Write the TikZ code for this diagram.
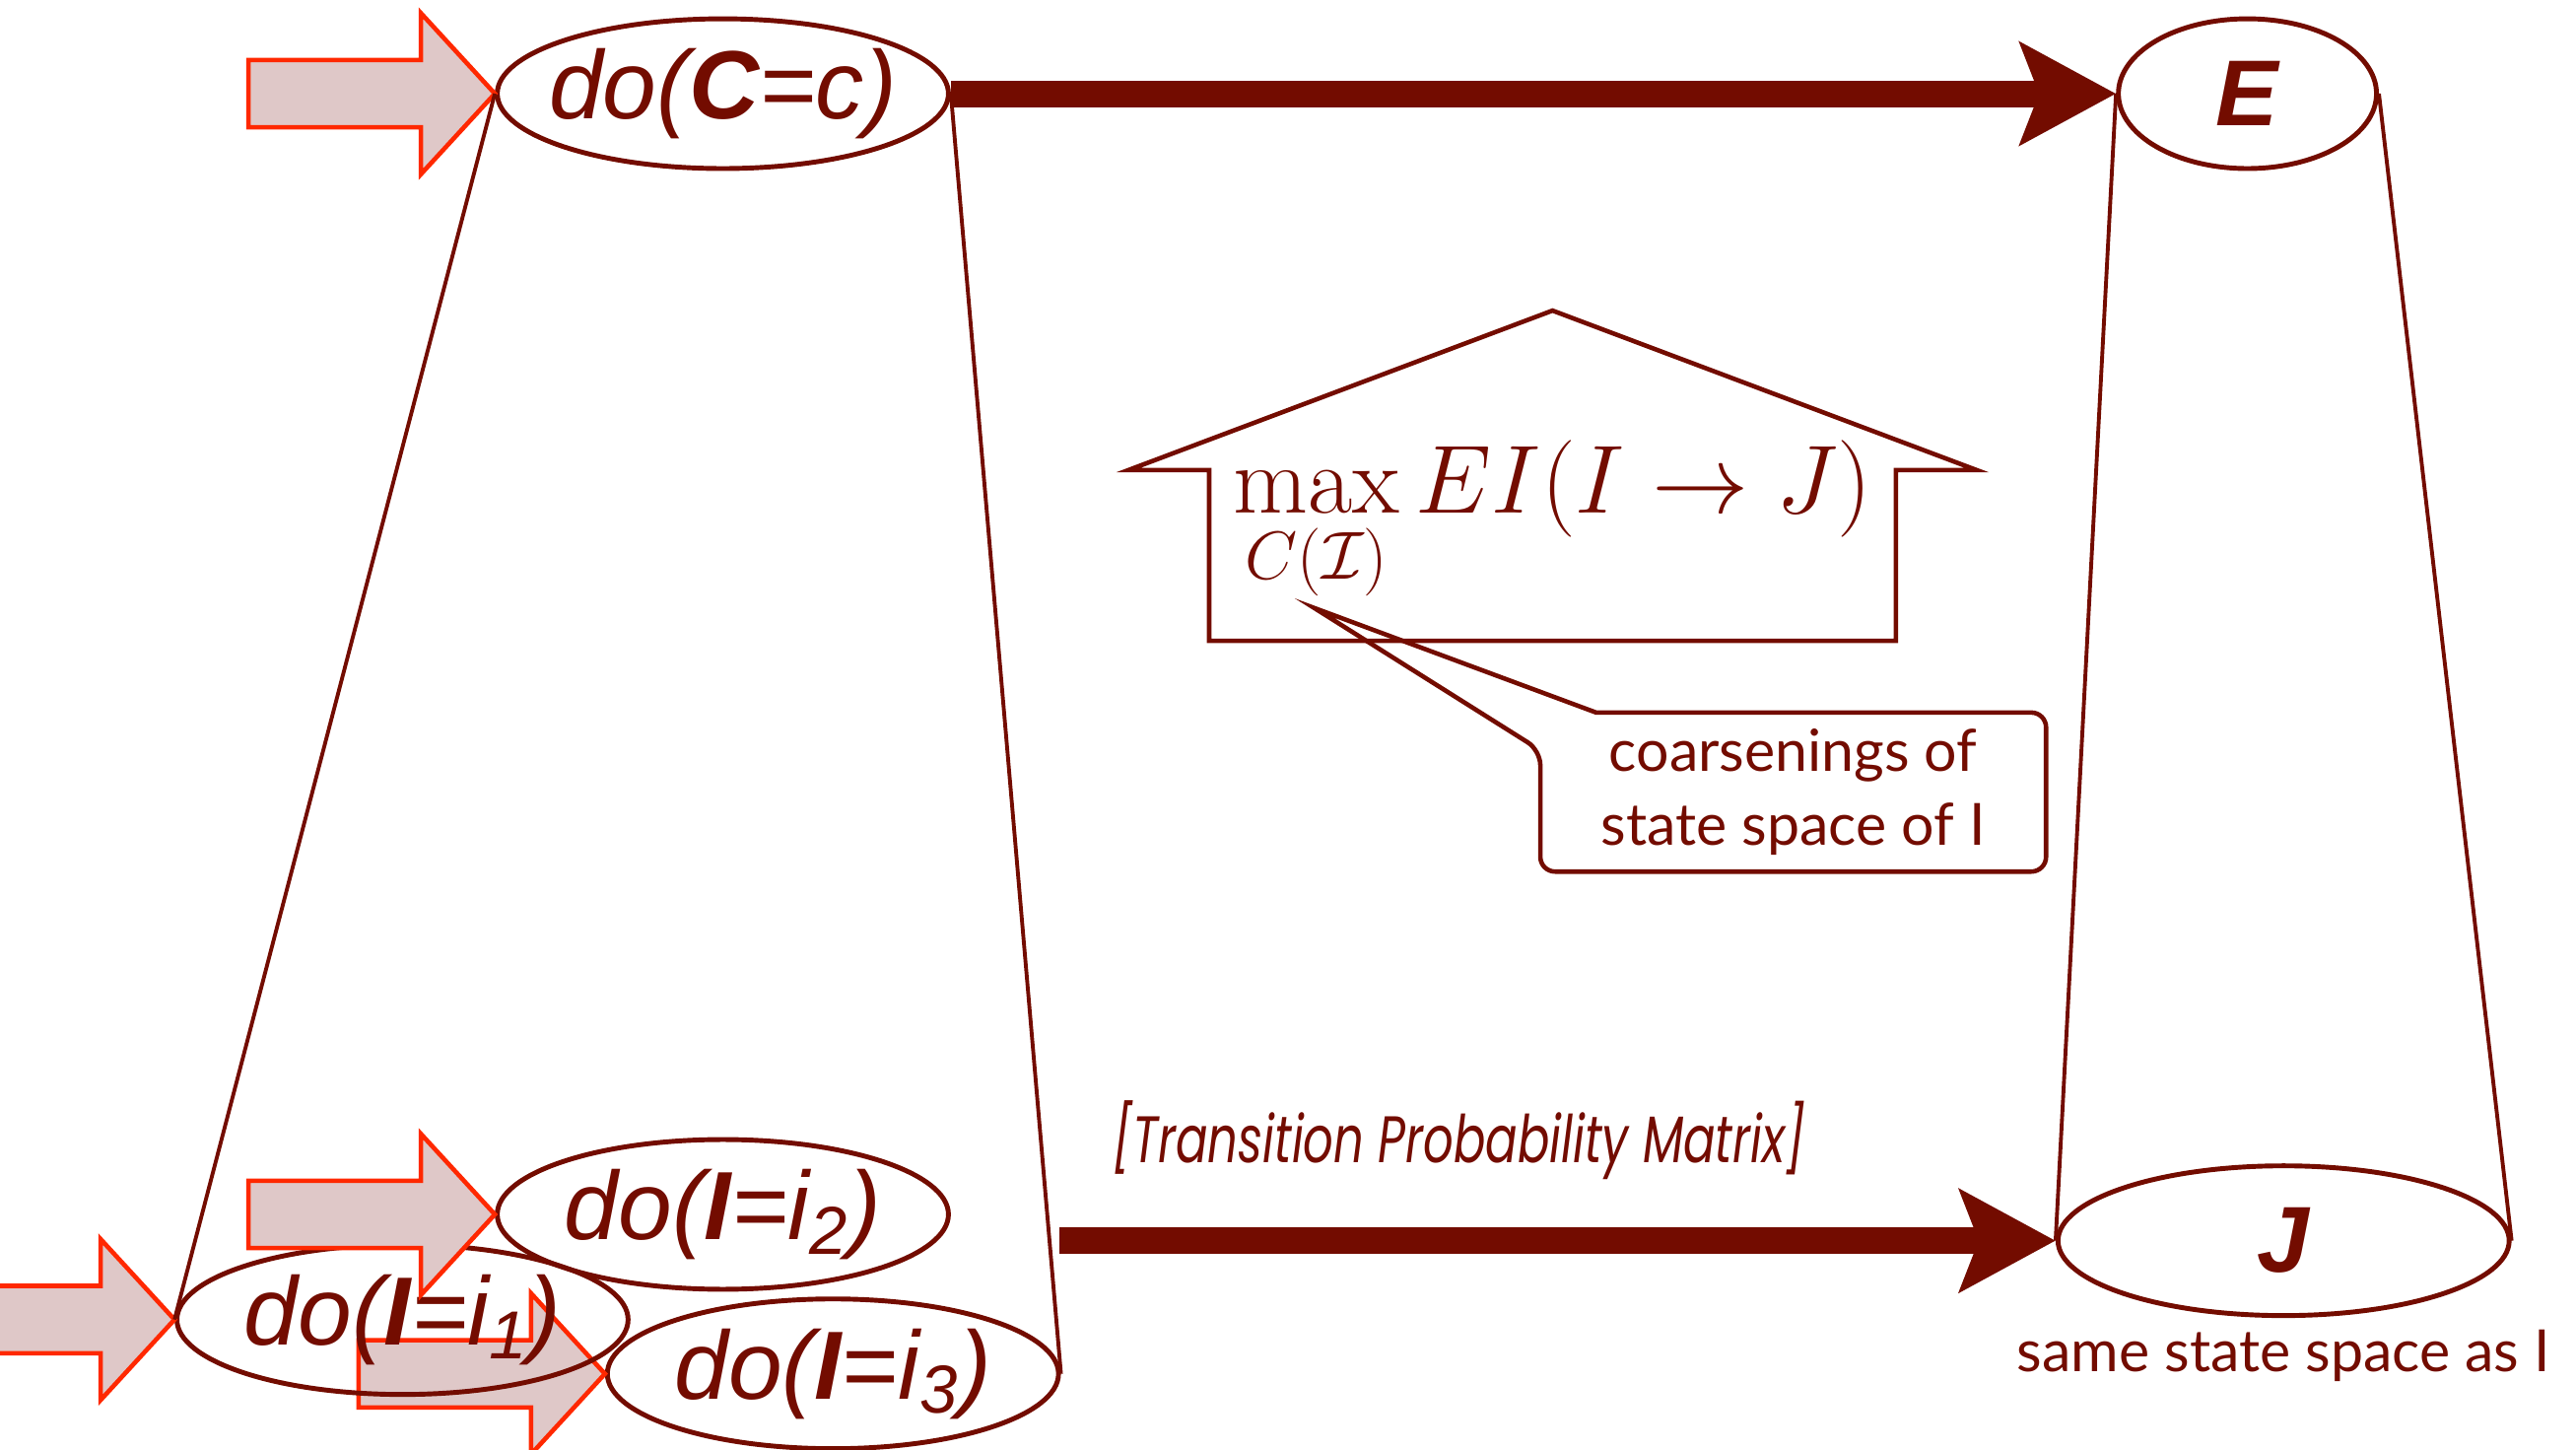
\RequirePackage{fix-cm}
\documentclass[tikz,border=0pt]{standalone}
\usepackage{amsmath}
\usepackage{fontspec}
\usepackage{tikz}
\usetikzlibrary{shapes,arrows.meta,positioning}

\definecolor{darkwine}{RGB}{115,12,0}
\definecolor{pushred}{RGB}{255,40,0}
\definecolor{pushfill}{RGB}{223,200,200}

\newfontfamily\helvfont{Liberation Sans}
\newfontfamily\gillfont{Lato}
\newfontfamily\futurafont[FakeStretch=0.72]{Poppins}

% intervention arrow, tip at #1
\newcommand{\pusharrow}[1]{%
  \draw[push] (#1) -- ++(-45,-49) -- ++(0,28.5) -- ++(-105,0) -- ++(0,41) -- ++(105,0) -- ++(0,28.5) -- cycle;}

\begin{document}
\begin{tikzpicture}[
    x=0.016671cm, y=-0.016671cm,
    dovar/.style={ellipse, draw=darkwine, line width=1.4pt, inner sep=0pt, minimum width=4.58cm, minimum height=1.52cm,
        label={[dotxt]center:#1}},
    dotxt/.style={text=darkwine, font=\helvfont\itshape\fontsize{28}{30}\selectfont},
    outvar/.style={ellipse, draw=darkwine, line width=1.4pt, inner sep=0pt, minimum height=1.52cm,
        text=darkwine, font=\helvfont\bfseries\itshape\fontsize{27}{30}\selectfont},
    side/.style={draw=darkwine, line width=1.1pt},
    push/.style={draw=pushred, fill=pushfill, line width=1.3pt, line join=miter},
    bigarrow/.style={-{Stealth[length=0.97cm, width=1.03cm, inset=0.19cm]}, line width=0.27cm, draw=darkwine},
    gilltxt/.style={text=darkwine, font=\gillfont\fontsize{16.8}{21.5}\selectfont, align=center},
    callout/.style={draw=darkwine, line width=1.3pt}
]
    \useasboundingbox (0,0) rectangle (1568,882);

    % micro level
    \node [dovar={do(\textbf{C}=c)}] (cc) at (440,57) {};
    \node [dovar={do(\textbf{I}=i\textsubscript{3})}] (i3) at (507,836) {};
    \pusharrow{i3.west}
    \node [dovar={do(\textbf{I}=i\textsubscript{1})}] (i1) at (245,803) {};
    \pusharrow{i1.west}
    \node [dovar={do(\textbf{I}=i\textsubscript{2})}] (i2) at (440,739) {};
    \pusharrow{i2.west}
    \pusharrow{cc.west}

    % macro level
    \node [outvar, minimum width=2.62cm] (ee) at (1368,57) {E};
    \node [outvar, minimum width=4.58cm] (jj) at (1390,755) {J};
    \node [gilltxt, below=0pt of jj] (jjnote) {same state space as I};

    \draw [side] (cc.west) -- (i1.west);
    \draw [side] (cc.east) -- (i3.east);
    \draw [side] (ee.west) -- (jj.west);
    \draw [side] (ee.east) -- (jj.east);

    \coordinate (tpm) at (645,755);
    \draw [bigarrow] (cc.east) -- (ee.west);
    \draw [bigarrow] (tpm) -- (jj.west);
    \node [text=darkwine, font=\futurafont\itshape\fontsize{19}{22}\selectfont] (tpmlabel) at (888,694) {[Transition Probability Matrix]};

    % house with the objective
    \draw [callout] (736,286) -- (687,286) -- (945,189) -- (1203,286) -- (1154,286) -- (1154,390) -- (736,390) -- cycle;
    \node [text=darkwine, font=\fontsize{28}{32}\selectfont] (eimax) at (945,318) {$\displaystyle\max_{C(\mathcal{I})} EI(I\rightarrow J)$};

    % callout
    \node [gilltxt, minimum width=5.12cm, minimum height=1.6cm] (coarse) at (1091.5,482) {coarsenings of\\state space of I};
    \coordinate (ptr) at (800,370);
    \draw [callout] ([xshift=0.567cm]coarse.north west) [rounded corners=0.15cm] -- (coarse.north east) -- (coarse.south east)
        -- (coarse.south west) -- ([yshift=-0.383cm]coarse.north west) [sharp corners] -- (ptr) -- cycle;
\end{tikzpicture}
\end{document}
